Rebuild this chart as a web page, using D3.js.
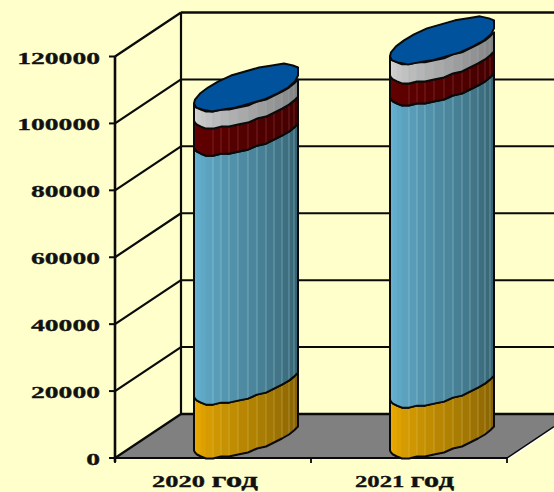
<!DOCTYPE html>
<html><head><meta charset="utf-8">
<style>html,body{margin:0;padding:0;background:#FFFFCC;overflow:hidden}svg{display:block}
text{font-family:"Liberation Serif",serif;font-weight:700;fill:#111;stroke:#111;stroke-width:.3px}</style>
<script src="https://cdn.jsdelivr.net/npm/d3@7/dist/d3.min.js"></script></head>
<body><svg id="c" width="554" height="492"></svg>
<script>
const categories = ["2020", "2021"];
const categoryWord = "год";
const seriesOrange = [16100, 15200];
const seriesBlue = [74400, 90300];
const seriesRed = [8100, 6600];
const seriesGrey = [5100, 5700];
const tickValues = [0, 20000, 40000, 60000, 80000, 100000, 120000];

const W = 554, H = 492;
const svg = d3.select("#c");
const y = d3.scaleLinear().domain([0, 120000]).range([458, 56.5]);
const x = d3.scaleBand().domain(categories).range([115, 507]);
const DX = 66, DY = -44;
const ink = "#0a0a0a";

// walls and floor
svg.append("polygon").attr("points", [[115,y(0)],[115+DX,y(0)+DY],[W,y(0)+DY],[W,y(0)+DY+13],[507,y(0)]].join(" "))
   .attr("fill", "#808080");
svg.append("line").attr("x1",507).attr("y1",y(0)).attr("x2",W).attr("y2",y(0)-31.5).attr("stroke","#fff").attr("stroke-width",1.5).attr("transform","translate(1,1)");
svg.append("line").attr("x1",507).attr("y1",y(0)).attr("x2",W).attr("y2",y(0)-31.5).attr("stroke",ink).attr("stroke-width",1.5);

const ticks = svg.append("g");
tickValues.forEach(v => {
  const yy = y(v);
  ticks.append("line").attr("x1",115+DX).attr("y1",yy+DY).attr("x2",W).attr("y2",yy+DY).attr("stroke",ink).attr("stroke-width",v===0||v===120000?2.4:2);
  ticks.append("line").attr("x1",115).attr("y1",yy).attr("x2",115+DX).attr("y2",yy+DY).attr("stroke",ink).attr("stroke-width",2.2);
  ticks.append("line").attr("x1",109).attr("y1",yy).attr("x2",115).attr("y2",yy).attr("stroke",ink).attr("stroke-width",2);
  const lab = String(v);
  ticks.append("text").attr("x",100).attr("y",yy+7).attr("text-anchor","end")
    .attr("font-size",16).attr("textLength",lab.length*13.8).attr("lengthAdjust","spacingAndGlyphs").text(lab);
});
ticks.append("line").attr("x1",115+DX).attr("y1",y(120000)+DY).attr("x2",115+DX).attr("y2",y(0)+DY).attr("stroke",ink).attr("stroke-width",2.2);
ticks.append("line").attr("x1",115).attr("y1",y(120000)).attr("x2",115).attr("y2",y(0)+4).attr("stroke",ink).attr("stroke-width",2.6);
ticks.append("line").attr("x1",115).attr("y1",y(0)).attr("x2",507).attr("y2",y(0)).attr("stroke",ink).attr("stroke-width",2.2);
[115,311,507].forEach(px => ticks.append("line").attr("x1",px).attr("y1",y(0)).attr("x2",px).attr("y2",y(0)+5).attr("stroke",ink).attr("stroke-width",1.8));

categories.forEach(c => {
  const ones = c.split("1").length - 1;
  const t = svg.append("text").attr("x", x(c)+x.bandwidth()/2+45).attr("y", 487).attr("text-anchor","end");
  t.append("tspan").attr("font-size",16).text(c+" ");
  t.append("tspan").attr("font-size",20).text(categoryWord);
  t.attr("textLength",106-7*ones).attr("lengthAdjust","spacingAndGlyphs");
});

// cylinders
const seriesList = [
  {vals: seriesOrange, light:"#F2B000", dark:"#856204", line:"#E8CC70"},
  {vals: seriesBlue,   light:"#68B8D9", dark:"#376473", line:"#B4E0EA"},
  {vals: seriesRed,    light:"#660000", dark:"#420000", line:"#B05050"},
  {vals: seriesGrey,   light:"#D8D8D8", dark:"#808080", line:"#A0BCC8"}
];
const TOP = "#00529C";
const A = 40, S = 36, D = 23.5;
const NF = 16;
const line = d3.line();

function prof(cx, t) {
  const r = t * Math.PI / 180;
  const px = A*Math.cos(r) + S*Math.sin(r);
  // the faceted outline snaps to a coarse pixel grid, like the stepped rim of the original
  return [Math.round(cx + Math.max(-53.5, Math.min(50.5, px))), 2*Math.round(-D*Math.sin(r)/2)];
}

categories.forEach((c, ci) => {
  const cx = x(c) + x.bandwidth()/2 + DX/2 + 1.5;
  const g = svg.append("g");
  let cum = 0;
  const front = d3.range(NF+1).map(i => 222 + i*160/NF);
  seriesList.forEach((s, si) => {
    const v0 = cum, v1 = cum + s.vals[ci];
    cum = v1;
    const yb = y(v0) - D, yt = y(v1) - D;
    const col = d3.interpolateRgb(s.light, s.dark);
    const pts = front.map(t => prof(cx, t));
    for (let i = 0; i < NF; i++) {
      const a = pts[i], b = pts[i+1];
      if (a[0] === b[0]) continue;
      g.append("path").attr("fill", col(i/(NF-1))).attr("stroke", col(i/(NF-1))).attr("stroke-width",.5)
       .attr("d", line([[a[0],yb+a[1]],[b[0],yb+b[1]],[b[0],yt+b[1]],[a[0],yt+a[1]]])+"Z");
      if (i > 4)
        g.append("line").attr("x1",a[0]).attr("x2",a[0]).attr("y1",yb+a[1]).attr("y2",yt+a[1])
         .attr("stroke",s.line).attr("stroke-width",1).attr("stroke-opacity",.4);
    }
    const low = pts.map(p => [p[0], yb+p[1]]);
    const up = pts.map(p => [p[0], yt+p[1]]).reverse();
    g.append("path").attr("fill","none").attr("stroke",ink).attr("stroke-width",2).attr("stroke-linejoin","round")
     .attr("d", line(low.concat(up))+"Z");
  });
  const topY = y(cum) - D;
  const ring = d3.range(0, 360, 360/24).map(t => { const p = prof(cx, t); return [p[0], topY+p[1]]; });
  g.append("path").attr("fill",TOP).attr("stroke",ink).attr("stroke-width",2).attr("stroke-linejoin","round").attr("d", line(ring)+"Z");
});
</script></body></html>
